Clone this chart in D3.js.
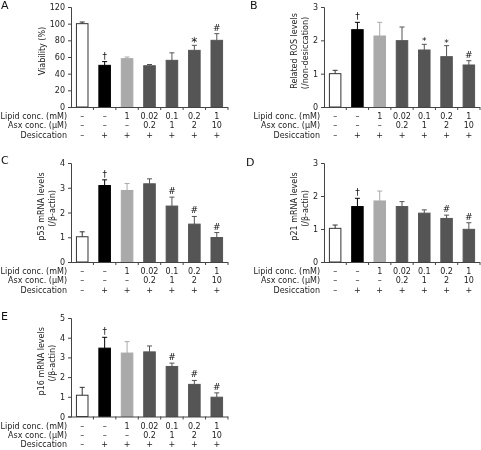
<!DOCTYPE html>
<html><head><meta charset="utf-8">
<script src="https://cdn.jsdelivr.net/npm/d3@7"></script>
<style>
body{margin:0;background:#fff;}
svg{display:block;font-family:"DejaVu Sans",Verdana,sans-serif;will-change:transform;}
</style></head>
<body><svg id="c" width="481" height="450"></svg>
<script>
// ---- data ----
const groups = ["g1","g2","g3","g4","g5","g6","g7"];
const lipidConc = ["\u2013","\u2013","1","0.02","0.1","0.2","1"];
const asxConc = ["\u2013","\u2013","\u2013","0.2","1","2","10"];
const desiccation = ["\u2013","+","+","+","+","+","+"];
const rowLabels = ["Lipid conc. (mM)","Asx conc. (\u03bcM)","Desiccation"];

const viabilityMean = [100, 50, 58, 49.5, 56, 68, 80];
const viabilityErr  = [2, 4.5, 2, 1.5, 9, 6, 8];
const viabilityMark = ["","\u2020","","","","*","#"];
const viabilityTicks = [0,20,40,60,80,100,120];

const rosMean = [1.0, 2.32, 2.13, 1.99, 1.71, 1.51, 1.26];
const rosErr  = [0.1, 0.22, 0.41, 0.41, 0.17, 0.33, 0.13];
const rosMark = ["","\u2020","","","*","*","#"];
const rosTicks = [0,1,2,3];

const p53Mean = [1.02, 3.09, 2.89, 3.16, 2.26, 1.53, 0.99];
const p53Err  = [0.2, 0.23, 0.28, 0.2, 0.36, 0.31, 0.2];
const p53Mark = ["","\u2020","","","#","#","#"];
const p53Ticks = [0,1,2,3,4];

const p21Mean = [1.02, 1.68, 1.85, 1.68, 1.48, 1.32, 0.99];
const p21Err  = [0.1, 0.25, 0.3, 0.15, 0.1, 0.1, 0.2];
const p21Mark = ["","\u2020","","","","#","#"];
const p21Ticks = [0,1,2,3];

const p16Mean = [1.08, 3.47, 3.22, 3.28, 2.54, 1.63, 0.98];
const p16Err  = [0.4, 0.55, 0.58, 0.3, 0.17, 0.2, 0.22];
const p16Mark = ["","\u2020","","","#","#","#"];
const p16Ticks = [0,1,2,3,4,5];

// ---- styles ----
const fills = ["#ffffff","#000000","#aaaaaa","#555555","#555555","#555555","#555555"];
const strokes = ["#333333","#000000","#aaaaaa","#555555","#555555","#555555","#555555"];
const axisColor = "#444";
const fs = 8;

const svg = d3.select("#c");

const panels = [
  {label:"A", lx:1, ly:9, x0:71, w:157, top:7, zero:107, star:12, mean:viabilityMean, err:viabilityErr, mark:viabilityMark, ticks:viabilityTicks, title:["Viability (%)"]},
  {label:"B", lx:250, ly:9, x0:324, w:156, top:7, zero:107, star:9, mean:rosMean, err:rosErr, mark:rosMark, ticks:rosTicks, title:["Related ROS levels","(/non-desiccation)"]},
  {label:"C", lx:1, ly:164, x0:71, w:157, top:163, zero:262, star:9, mean:p53Mean, err:p53Err, mark:p53Mark, ticks:p53Ticks, title:["p53 mRNA levels","(/\u03b2-actin)"]},
  {label:"D", lx:246, ly:166, x0:324, w:156, top:163, zero:262, star:9, mean:p21Mean, err:p21Err, mark:p21Mark, ticks:p21Ticks, title:["p21 mRNA levels","(/\u03b2-actin)"]},
  {label:"E", lx:1, ly:320, x0:71, w:157, top:318, zero:416.5, star:9, mean:p16Mean, err:p16Err, mark:p16Mark, ticks:p16Ticks, title:["p16 mRNA levels","(/\u03b2-actin)"]}
];

panels.forEach(p => {
  const g = svg.append("g");
  const x = d3.scaleBand().domain(groups).range([p.x0, p.x0 + p.w]).paddingInner(0.44).paddingOuter(0.22);
  const y = d3.scaleLinear().domain([0, d3.max(p.ticks)]).range([p.zero, p.top]);

  // panel label
  g.append("text").attr("x", p.lx).attr("y", p.ly).attr("font-size", 11).attr("fill","#111").text(p.label);

  // bars
  g.selectAll("rect.bar").data(groups).join("rect")
    .attr("x", (d) => x(d) + 0.5)
    .attr("y", (d,i) => y(p.mean[i]))
    .attr("width", x.bandwidth() - 1)
    .attr("height", (d,i) => y(0) - y(p.mean[i]))
    .attr("fill", (d,i) => fills[i])
    .attr("stroke", (d,i) => strokes[i])
    .attr("stroke-width", 1);

  // error bars (upper only)
  groups.forEach((d,i) => {
    const cx = x(d) + x.bandwidth()/2;
    const yt = y(p.mean[i] + p.err[i]);
    g.append("line").attr("x1",cx).attr("x2",cx).attr("y1",y(p.mean[i])).attr("y2",yt)
      .attr("stroke",strokes[i]).attr("stroke-width",1);
    g.append("line").attr("x1",cx-2.5).attr("x2",cx+2.5).attr("y1",yt).attr("y2",yt)
      .attr("stroke",strokes[i]).attr("stroke-width",1);
    if (p.mark[i]) {
      const m = p.mark[i];
      const isStar = m === "*";
      g.append("text").attr("x",cx).attr("y", yt - (isStar ? (p.star > 10 ? -1 : 0) : 3))
        .attr("text-anchor","middle").attr("font-size", isStar ? p.star : 9).attr("fill","#111").text(m);
    }
  });

  // y axis
  const ya = g.append("g").attr("transform",`translate(${p.x0},0)`)
    .call(d3.axisLeft(y).tickValues(p.ticks).tickSize(3).tickPadding(3).tickFormat(d3.format("d")));
  ya.select(".domain").attr("stroke",axisColor);
  ya.selectAll(".tick line").attr("stroke",axisColor);
  ya.selectAll(".tick text").attr("font-size",fs).attr("fill","#222").attr("font-family","DejaVu Sans");

  // x axis: line with ticks at band boundaries
  g.append("line").attr("x1",p.x0).attr("x2",p.x0+p.w).attr("y1",p.zero+0.5).attr("y2",p.zero+0.5).attr("stroke",axisColor);
  const step = x.step();
  const bounds = groups.map((d) => x(d) + x.bandwidth()/2 + step/2);
  g.selectAll("line.xt").data(bounds).join("line")
    .attr("x1",d=>d).attr("x2",d=>d).attr("y1",p.zero).attr("y2",p.zero+3).attr("stroke",axisColor);

  // y title
  p.title.forEach((t,k) => {
    const tx = p.title.length === 1 ? p.x0 - 29 : p.x0 - 30 + k*11;
    const ty = (p.top + p.zero)/2 - 6 + k*2;
    g.append("text").attr("transform",`translate(${tx},${ty}) rotate(-90)`)
      .attr("text-anchor","middle").attr("dy","0.35em").attr("font-size",fs).attr("fill","#222").text(t);
  });

  // table rows
  const rows = [lipidConc, asxConc, desiccation];
  const rowOff = [9.5, 18.6, 27.7];
  rows.forEach((vals,r) => {
    const ry = p.zero + rowOff[r];
    g.append("text").attr("x",p.x0-4).attr("y",ry).attr("dy","0.35em").attr("text-anchor","end")
      .attr("font-size",fs).attr("fill","#222").text(rowLabels[r]);
    g.selectAll(null).data(groups).join("text")
      .attr("x", d => x(d) + x.bandwidth()/2).attr("y", ry).attr("dy","0.35em")
      .attr("text-anchor","middle").attr("font-size",fs).attr("fill","#222")
      .text((d,i) => vals[i]);
  });
});
</script>
</body></html>
